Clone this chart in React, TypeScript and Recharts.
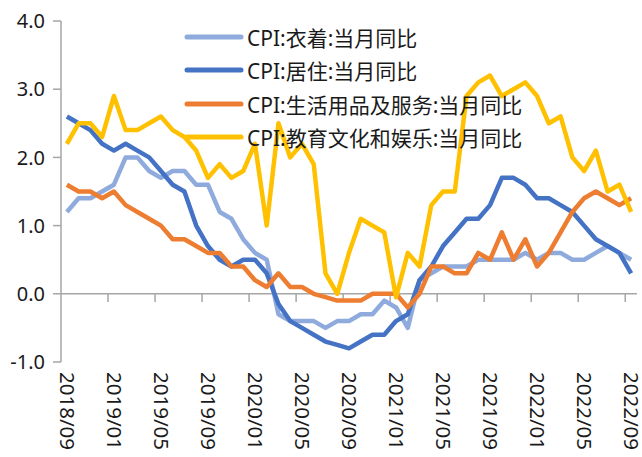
import { LineChart, Line, XAxis, YAxis, ReferenceLine, Legend } from "recharts";

const months = [
    "2018/09", "2018/10", "2018/11", "2018/12",
    "2019/01", "2019/02", "2019/03", "2019/04", "2019/05", "2019/06", "2019/07", "2019/08", "2019/09", "2019/10", "2019/11", "2019/12",
    "2020/01", "2020/02", "2020/03", "2020/04", "2020/05", "2020/06", "2020/07", "2020/08", "2020/09", "2020/10", "2020/11", "2020/12",
    "2021/01", "2021/02", "2021/03", "2021/04", "2021/05", "2021/06", "2021/07", "2021/08", "2021/09", "2021/10", "2021/11", "2021/12",
    "2022/01", "2022/02", "2022/03", "2022/04", "2022/05", "2022/06", "2022/07", "2022/08", "2022/09",
];

// CPI:衣着
const clothing = [
    1.2, 1.4, 1.4, 1.5, 1.6, 2.0, 2.0, 1.8, 1.7, 1.8, 1.8, 1.6, 1.6, 1.2, 1.1, 0.8,
    0.6, 0.5, -0.3, -0.4, -0.4, -0.4, -0.5, -0.4, -0.4, -0.3, -0.3, -0.1,
    -0.2, -0.5, 0.2, 0.3, 0.4, 0.4, 0.4, 0.5, 0.5, 0.5, 0.5, 0.6,
    0.5, 0.6, 0.6, 0.5, 0.5, 0.6, 0.7, 0.6, 0.5,
];
// CPI:居住
const housing = [
    2.6, 2.5, 2.4, 2.2, 2.1, 2.2, 2.1, 2.0, 1.8, 1.6, 1.5, 1.0, 0.7, 0.5, 0.4, 0.5,
    0.5, 0.3, -0.15, -0.4, -0.5, -0.6, -0.7, -0.75, -0.8, -0.7, -0.6, -0.6,
    -0.4, -0.3, 0.2, 0.4, 0.7, 0.9, 1.1, 1.1, 1.3, 1.7, 1.7, 1.6,
    1.4, 1.4, 1.3, 1.2, 1.0, 0.8, 0.7, 0.6, 0.3,
];
// CPI:生活用品及服务
const household = [
    1.6, 1.5, 1.5, 1.4, 1.5, 1.3, 1.2, 1.1, 1.0, 0.8, 0.8, 0.7, 0.6, 0.6, 0.4, 0.4,
    0.2, 0.1, 0.3, 0.1, 0.1, 0.0, -0.05, -0.1, -0.1, -0.1, 0.0, 0.0,
    0.0, -0.2, 0.0, 0.4, 0.4, 0.3, 0.3, 0.6, 0.5, 0.9, 0.5, 0.8,
    0.4, 0.6, 0.9, 1.2, 1.4, 1.5, 1.4, 1.3, 1.4,
];
// CPI:教育文化和娱乐
const education = [
    2.2, 2.5, 2.5, 2.3, 2.9, 2.4, 2.4, 2.5, 2.6, 2.4, 2.3, 2.1, 1.7, 1.9, 1.7, 1.8,
    2.2, 1.0, 2.5, 2.0, 2.2, 1.9, 0.3, 0.0, 0.6, 1.1, 1.0, 0.9,
    -0.05, 0.6, 0.4, 1.3, 1.5, 1.5, 2.9, 3.1, 3.2, 2.9, 3.0, 3.1,
    2.9, 2.5, 2.6, 2.0, 1.8, 2.1, 1.5, 1.6, 1.2,
];

const yTicks = [-1, 0, 1, 2, 3, 4];

const series = [
    { key: "clothing", name: "CPI:衣着:当月同比", color: "#8FAADC" },
    { key: "housing", name: "CPI:居住:当月同比", color: "#4472C4" },
    { key: "household", name: "CPI:生活用品及服务:当月同比", color: "#ED7D31" },
    { key: "education", name: "CPI:教育文化和娱乐:当月同比", color: "#FFC000" },
];

const rows = months.map((month, i) => ({
    month,
    clothing: clothing[i],
    housing: housing[i],
    household: household[i],
    education: education[i],
}));

// small tick marks on the zero line, every 4 months
const zeroTicks = months.filter((_, i) => i > 0 && i % 4 === 0);

const FONT = "'Noto Sans', 'Noto Sans CJK SC', sans-serif";
const AXIS = "#A6A6A6";
const TEXT = "#1a1a1a";

function MonthTick({ x, y, payload }: any) {
    return (
        <text
            x={x}
            y={y}
            dx={2}
            dy="0.36em"
            transform={`rotate(90, ${x}, ${y})`}
            textAnchor="start"
            fontSize={20.5}
            fontFamily={FONT}
            fill={TEXT}
        >
            {payload.value}
        </text>
    );
}

function LegendBox() {
    return (
        <div style={{ display: "flex", flexDirection: "column" }}>
            {series.map(s => (
                <div key={s.key} style={{ display: "flex", alignItems: "center", height: 33.5 }}>
                    <svg width={60} height={10}>
                        <line x1={3} x2={57} y1={5} y2={5} stroke={s.color} strokeWidth={5} strokeLinecap="round" />
                    </svg>
                    <span style={{ marginLeft: 3, fontSize: 21, color: TEXT, whiteSpace: "nowrap", fontFamily: FONT }}>
                        {s.name}
                    </span>
                </div>
            ))}
        </div>
    );
}

export default function App() {
    return (
        <div style={{ position: "absolute", left: 0, top: 0, width: 642, height: 457, background: "#fff", fontFamily: FONT }}>
            <LineChart width={642} height={457} data={rows} margin={{ top: 21, right: 5, bottom: 0, left: 0 }}>
                <XAxis
                    dataKey="month"
                    scale="band"
                    interval={3}
                    axisLine={false}
                    tickLine={false}
                    height={95}
                    tick={<MonthTick />}
                />
                <YAxis
                    domain={[-1, 4]}
                    ticks={yTicks}
                    width={61}
                    tickFormatter={(v: number) => v.toFixed(1)}
                    axisLine={{ stroke: AXIS, strokeWidth: 1.5 }}
                    tickLine={{ stroke: AXIS, strokeWidth: 1.5 }}
                    tickSize={8}
                    tickMargin={8}
                    tick={{ fill: TEXT, fontSize: 20, fontFamily: FONT }}
                />
                <ReferenceLine y={0} stroke={AXIS} strokeWidth={1.5} />
                {zeroTicks.map(m => (
                    <ReferenceLine
                        key={m}
                        segment={[{ x: m, y: 0 }, { x: m, y: -0.12 }]}
                        position="start"
                        stroke={AXIS}
                        strokeWidth={1.5}
                    />
                ))}
                <Legend
                    layout="vertical"
                    align="center"
                    verticalAlign="middle"
                    content={<LegendBox />}
                    wrapperStyle={{ left: 184, top: 20, width: "auto", height: "auto" }}
                />
                {series.map(s => (
                    <Line
                        key={s.key}
                        type="linear"
                        dataKey={s.key}
                        name={s.name}
                        stroke={s.color}
                        strokeWidth={4.5}
                        strokeLinejoin="round"
                        dot={false}
                        activeDot={false}
                        isAnimationActive={false}
                    />
                ))}
            </LineChart>
        </div>
    );
}
